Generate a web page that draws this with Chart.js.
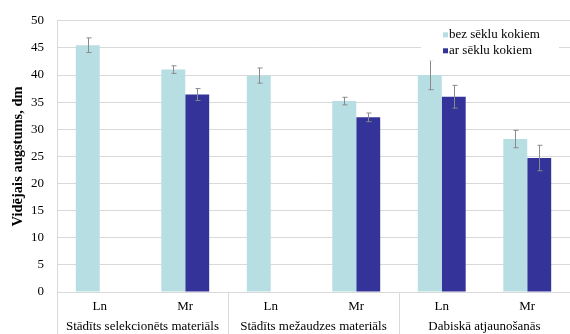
<!DOCTYPE html>
<html>
<head>
<meta charset="utf-8">
<script src="https://cdn.jsdelivr.net/npm/chart.js@4/dist/chart.umd.min.js"></script>
<style>
  html, body { margin: 0; padding: 0; background: #fff; }
  #wrap { width: 570px; height: 334px; position: relative; }
</style>
</head>
<body>
<div id="wrap"><canvas id="c"></canvas></div>
<script>
// Sub-categories (species) and the planting groups they belong to
const categories = ['Ln', 'Mr', 'Ln', 'Mr', 'Ln', 'Mr'];
const groups = ['Stādīts selekcionēts materiāls', 'Stādīts mežaudzes materiāls', 'Dabiskā atjaunošanās'];

// Mean height, dm, and error half-widths
const bezValues = [45.5, 41.0, 39.9, 35.2, 40.0, 28.2];
const bezErrors = [1.35, 0.7, 1.4, 0.7, 2.7, 1.6];
const arValues  = [null, 36.4, null, 32.2, 36.0, 24.7];
const arErrors  = [null, 1.1, null, 0.8, 2.1, 2.35];

const seriesNames = ['bez sēklu kokiem', 'ar sēklu kokiem'];
const yTicks = [0, 5, 10, 15, 20, 25, 30, 35, 40, 45, 50];

const FONT = '"Liberation Serif", "Times New Roman", serif';
const GRID = '#d9d9d9';
const LIGHT = '#b7dee2';
const DARK = '#333399';

// Error bars on top of every bar
const errorBars = {
  id: 'errorBars',
  afterDatasetsDraw(chart) {
    const ctx = chart.ctx;
    const y = chart.scales.y;
    ctx.save();
    ctx.strokeStyle = '#8a8a8a';
    ctx.lineWidth = 1;
    chart.data.datasets.forEach((ds, di) => {
      const meta = chart.getDatasetMeta(di);
      ds.errors.forEach((e, i) => {
        if (e == null || ds.data[i] == null) return;
        const x = Math.round(meta.data[i].x) + 0.5;
        const top = y.getPixelForValue(ds.data[i] + e);
        const bot = y.getPixelForValue(ds.data[i] - e);
        ctx.beginPath();
        ctx.moveTo(x, top); ctx.lineTo(x, bot);
        ctx.moveTo(x - 2, top); ctx.lineTo(x + 3, top);
        ctx.moveTo(x - 2, bot); ctx.lineTo(x + 3, bot);
        ctx.stroke();
      });
    });
    ctx.restore();
  }
};

// Group labels and separators under the category axis
const groupAxis = {
  id: 'groupAxis',
  afterDraw(chart) {
    const ctx = chart.ctx;
    const x = chart.scales.x;
    const area = chart.chartArea;
    const bottom = chart.height;
    const step = x.getPixelForValue(1) - x.getPixelForValue(0);
    ctx.save();
    ctx.strokeStyle = GRID;
    ctx.lineWidth = 1;
    // left axis line, down through the label rows
    ctx.beginPath();
    ctx.moveTo(Math.round(area.left) + 0.5, area.top);
    ctx.lineTo(Math.round(area.left) + 0.5, bottom);
    groups.forEach((g, gi) => {
      if (gi === 0) return;
      const bx = Math.round(x.getPixelForValue(gi * 2) - step / 2) + 0.5;
      ctx.moveTo(bx, area.bottom);
      ctx.lineTo(bx, bottom);
    });
    ctx.stroke();
    ctx.fillStyle = '#000';
    ctx.font = '13px ' + FONT;
    ctx.textAlign = 'center';
    ctx.textBaseline = 'middle';
    groups.forEach((g, gi) => {
      const cx = (x.getPixelForValue(gi * 2) + x.getPixelForValue(gi * 2 + 1)) / 2;
      ctx.fillText(g, cx, 327);
    });
    ctx.restore();
  }
};

// Legend box inside the plot area, top right
const insideLegend = {
  id: 'insideLegend',
  afterDraw(chart) {
    const ctx = chart.ctx;
    const area = chart.chartArea;
    const left = area.right - 149;
    ctx.save();
    ctx.fillStyle = '#fff';
    ctx.fillRect(left, area.top + 4, 138, 36);
    ctx.font = '13px ' + FONT;
    ctx.textBaseline = 'middle';
    ctx.textAlign = 'left';
    chart.data.datasets.forEach((ds, i) => {
      const cy = area.top + 14 + i * 16;
      ctx.fillStyle = ds.backgroundColor;
      ctx.fillRect(left + 22, cy - 2.5, 5, 5);
      ctx.fillStyle = '#000';
      ctx.fillText(ds.label, left + 28, cy);
    });
    ctx.restore();
  }
};

new Chart(document.getElementById('c'), {
  type: 'bar',
  data: {
    labels: categories,
    datasets: [
      { label: seriesNames[0], data: bezValues, errors: bezErrors, backgroundColor: LIGHT },
      { label: seriesNames[1], data: arValues, errors: arErrors, backgroundColor: DARK }
    ]
  },
  options: {
    responsive: true,
    maintainAspectRatio: false,
    animation: false,
    devicePixelRatio: 1,
    layout: { padding: { top: 18, right: 0, left: 0, bottom: 0 } },
    datasets: { bar: { categoryPercentage: 0.56, barPercentage: 1.0 } },
    plugins: {
      legend: { display: false },
      tooltip: { enabled: false }
    },
    scales: {
      x: {
        grid: { display: false, drawTicks: false },
        border: { display: false },
        ticks: { color: '#000', font: { family: FONT, size: 13 }, padding: 7, maxRotation: 0 },
        afterFit(scale) { scale.height = 42; }
      },
      y: {
        min: 0, max: 50,
        afterBuildTicks(scale) { scale.ticks = yTicks.map(v => ({ value: v })); },
        grid: { color: GRID, lineWidth: 1, drawTicks: false },
        border: { display: false },
        ticks: { color: '#000', font: { family: FONT, size: 13 }, padding: 13 },
        title: {
          display: true,
          text: 'Vidējais augstums, dm',
          color: '#000',
          font: { family: FONT, size: 14.5, weight: 'bold' },
          padding: { top: 10, bottom: 0 }
        },
        afterFit(scale) { scale.width = 57; }
      }
    }
  },
  plugins: [errorBars, groupAxis, insideLegend]
});
</script>
</body>
</html>
